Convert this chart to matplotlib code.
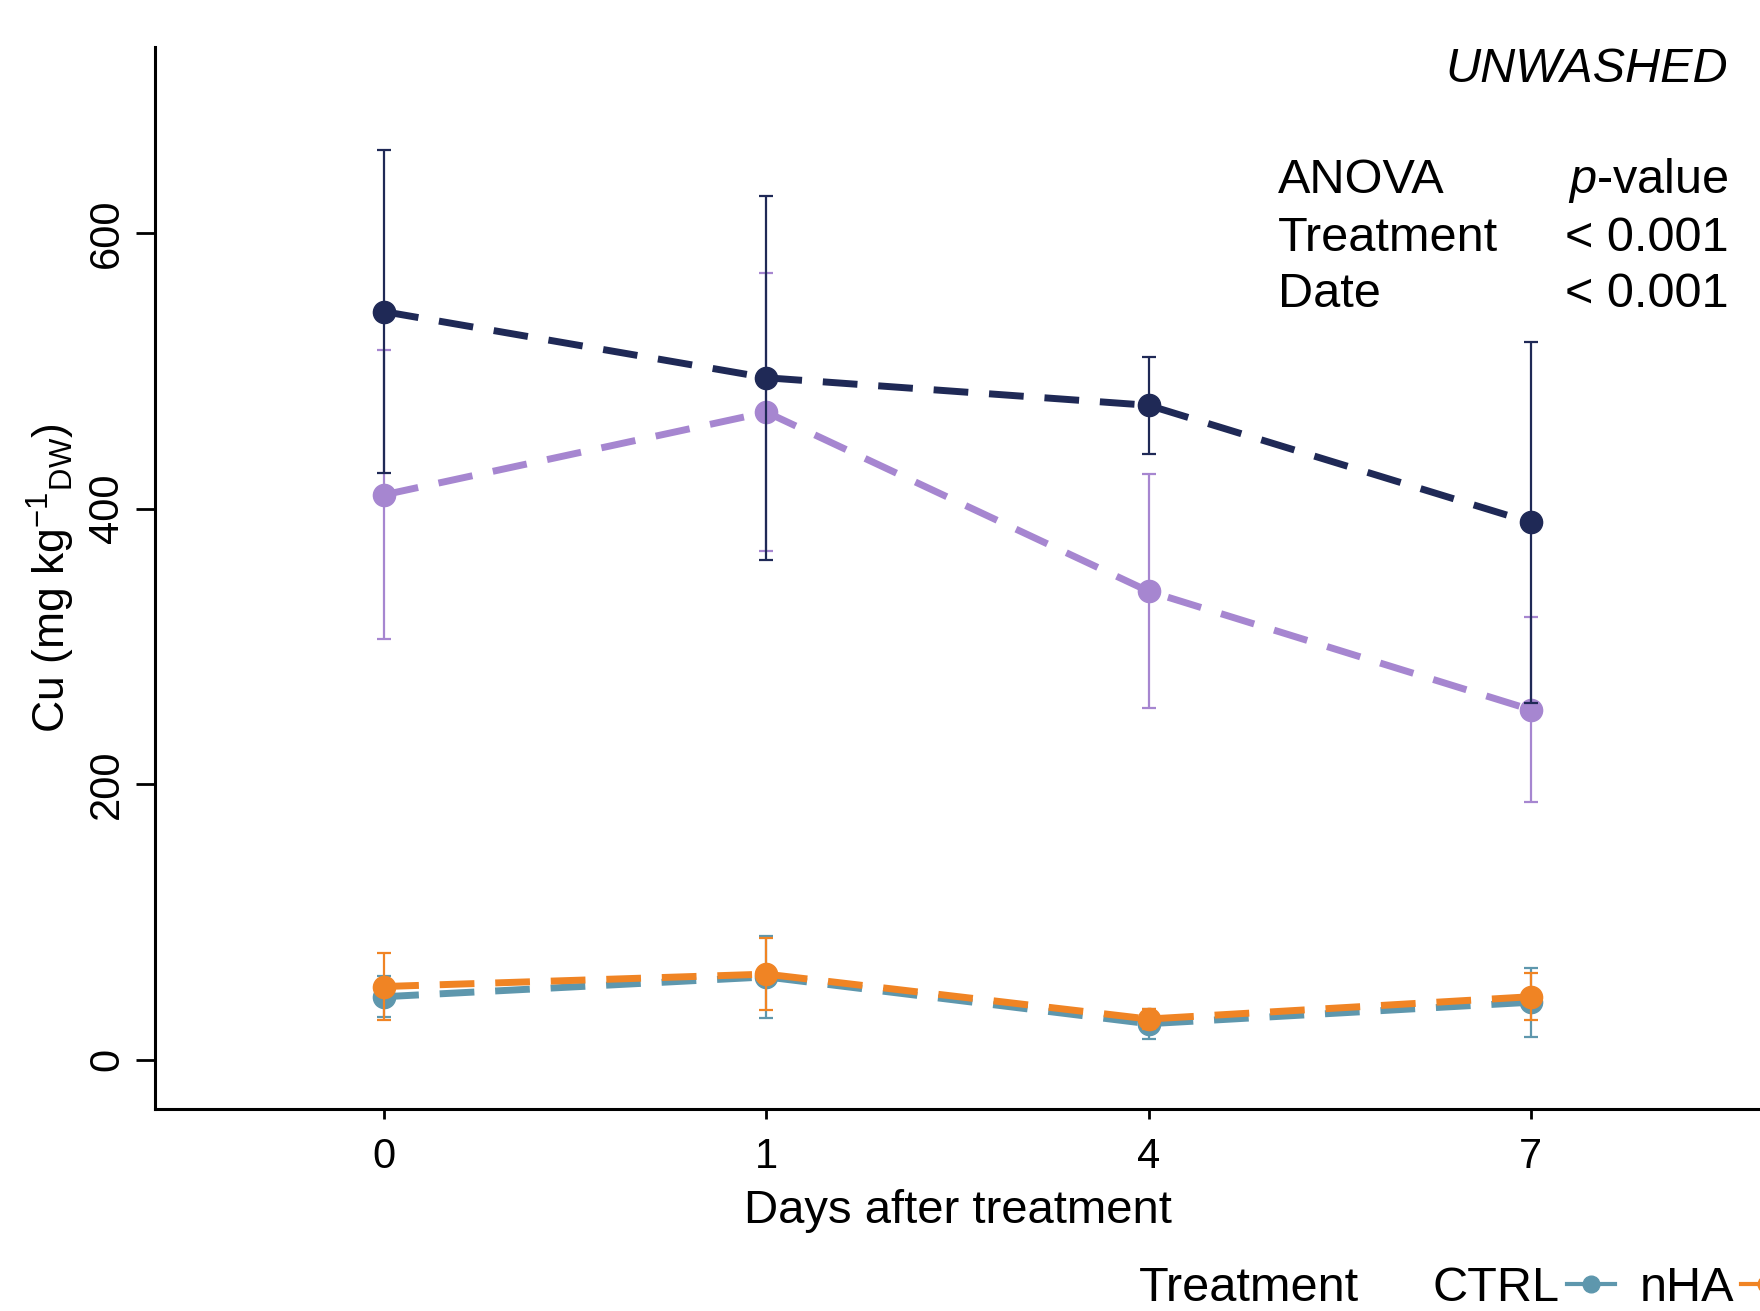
import matplotlib
matplotlib.use("Agg")
import matplotlib.pyplot as plt
from matplotlib.lines import Line2D
import numpy as np

plt.rcParams['font.family'] = ['Liberation Sans', 'DejaVu Sans']
plt.rcParams['mathtext.fontset'] = 'custom'
plt.rcParams['mathtext.rm'] = 'Liberation Sans'
plt.rcParams['mathtext.it'] = 'Liberation Sans:italic'

days = ["0", "1", "4", "7"]
ctrl = [45.6, 60, 26, 41.6]
ctrl_err = [15, 30, 11, 25]
nha = [53, 62, 29.4, 45.6]
nha_err = [24, 26, 7, 17]
navy_vals = [543, 495, 475, 390]
navy_err = [117, 132, 35, 131]
purple_vals = [410, 470, 340, 254]
purple_err = [105, 101, 85, 67]

c_ctrl = "#5e97ad"
c_nha = "#f08424"
c_navy = "#1f2956"
c_purple = "#a686d0"

fig = plt.figure(figsize=(17.6, 13.11), dpi=100)
ax = fig.add_axes([0.088, 0.154, 0.912, 0.81])
x = np.arange(len(days))

def series(vals, errs, color, z):
    ax.errorbar(x, vals, yerr=errs, color=color, ecolor=color, elinewidth=1.6,
                capsize=5, capthick=1.6, fmt='none', zorder=z)
    ax.plot(x, vals, color=color, lw=5, ls=(0, (5, 3)), marker='o',
            markersize=16, zorder=z + 0.5)

series(ctrl, ctrl_err, c_ctrl, 2)
series(nha, nha_err, c_nha, 3)
series(purple_vals, purple_err, c_purple, 4)
series(navy_vals, navy_err, c_navy, 5)

ax.set_xlim(-0.6, 3.6)
ax.set_ylim(-36, 735)
ax.set_xticks(x)
ax.set_xticklabels(days)
ax.set_yticks([0, 200, 400, 600])
for lab in ax.get_yticklabels():
    lab.set_rotation(90)
    lab.set_va('center')
ax.tick_params(axis='both', labelsize=30, width=2, color='black')
ax.tick_params(axis='y', length=14, pad=6)
ax.tick_params(axis='x', length=7, pad=13)
for s in ['top', 'right']:
    ax.spines[s].set_visible(False)
for s in ['left', 'bottom']:
    ax.spines[s].set_linewidth(2.2)

ax.set_xlabel("Days after treatment", fontsize=34, labelpad=9)
ax.set_ylabel(r"Cu (mg kg$^{\mathregular{-1}}$$_{\mathregular{DW}}$)", fontsize=32, labelpad=7)

# annotations
fs = 35
fig.text(0.982, 0.947, "UNWASHED", fontsize=fs, style='italic', ha='right', va='center')
ys = [0.862, 0.818, 0.775]
fig.text(0.726, ys[0], "ANOVA", fontsize=fs, ha='left', va='center')
fig.text(0.982, ys[0], r"$\mathit{p}$-value", fontsize=fs, ha='right', va='center')
row_labels = ["Treatment", "Date"]
row_vals = ["< 0.001", "< 0.001"]
for lab, val, yy in zip(row_labels, row_vals, ys[1:]):
    fig.text(0.726, yy, lab, fontsize=fs, ha='left', va='center')
    fig.text(0.982, yy, val, fontsize=fs, ha='right', va='center')

fig.text(0.647, 0.017, "Treatment", fontsize=fs, ha='left', va='center')
handles = [Line2D([0], [0], color=c_ctrl, lw=3, marker='o', markersize=12),
           Line2D([0], [0], color=c_nha, lw=3, marker='o', markersize=12)]
fig.legend(handles, ["CTRL", "nHA"], loc='center left', bbox_to_anchor=(0.800, 0.017),
           ncol=2, frameon=False, markerfirst=False, fontsize=fs,
           handlelength=1.0, handletextpad=0.15, columnspacing=0.5, borderpad=0)

fig.savefig("out.png", dpi=100)
